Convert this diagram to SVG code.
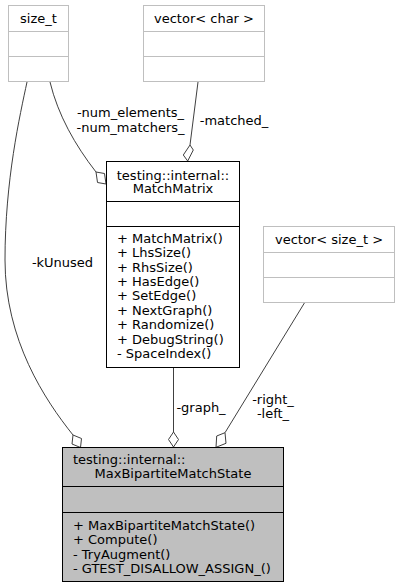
<svg xmlns="http://www.w3.org/2000/svg" width="400" height="588" viewBox="0 0 400 588">
<style>
text{font-family:"DejaVu Sans",sans-serif;font-size:13px;fill:#000}
.c{text-anchor:middle}
.box{fill:#fff;stroke:#bfbfbf;stroke-width:1}
.boxk{fill:#fff;stroke:#000;stroke-width:1}
.boxg{fill:#bfbfbf;stroke:#000;stroke-width:1}
.sepg{stroke:#bfbfbf;stroke-width:1}
.sepk{stroke:#000;stroke-width:1}
.edge{fill:none;stroke:#404040;stroke-width:1}
.dia{fill:#fff;stroke:#404040;stroke-width:1}
</style>
<rect width="400" height="588" fill="#fff"/>
<g id="connectors">
<path class="edge" d="M27,82 C20,115 5,180 5,260 C5,340 45,400 73,435"/>
<polygon class="dia" points="73,435 81.5,438.5 80.5,447.5 72,444"/>
<text class="c" x="62.5" y="267">-kUnused</text>
<path class="edge" d="M50,82 C58,115 75,145 96,172"/>
<polygon class="dia" points="96,172 104.5,173.5 106,184 97.5,182.5"/>
<text class="c" x="130.5" y="117">-num_elements_</text>
<text class="c" x="130.5" y="132">-num_matchers_</text>
<path class="edge" d="M198,82 L190,145"/>
<polygon class="dia" points="190,145 193.3,150 187.7,161 183.3,155"/>
<text class="c" x="234" y="125">-matched_</text>
<path class="edge" d="M173.5,368 L173.5,432"/>
<polygon class="dia" points="173.5,432 178.5,439.5 173.5,447 168.5,439.5"/>
<text class="c" x="201" y="412">-graph_</text>
<path class="edge" d="M305,302 L225,432.7"/>
<polygon class="dia" points="225,432.7 226,443.3 216,447.3 216.7,436"/>
<text class="c" x="273" y="404">-right_</text>
<text class="c" x="273" y="418">-left_</text>
</g>
<g id="size_t">
<rect class="box" x="8.5" y="5.5" width="60" height="76"/>
<line class="sepg" x1="8.5" y1="31.5" x2="68.5" y2="31.5"/>
<line class="sepg" x1="8.5" y1="56.5" x2="68.5" y2="56.5"/>
<text class="c" x="38.5" y="22.5">size_t</text>
</g>
<g id="vector_char">
<rect class="box" x="143.5" y="5.5" width="121" height="76"/>
<line class="sepg" x1="143.5" y1="31.5" x2="264.5" y2="31.5"/>
<line class="sepg" x1="143.5" y1="56.5" x2="264.5" y2="56.5"/>
<text class="c" x="204" y="22.5">vector&lt; char &gt;</text>
</g>
<g id="vector_size_t">
<rect class="box" x="263.5" y="226.5" width="131" height="76"/>
<line class="sepg" x1="263.5" y1="252.5" x2="394.5" y2="252.5"/>
<line class="sepg" x1="263.5" y1="277.5" x2="394.5" y2="277.5"/>
<text class="c" x="329" y="243.5">vector&lt; size_t &gt;</text>
</g>
<g id="MatchMatrix">
<rect class="boxk" x="106.5" y="161.5" width="133" height="206"/>
<line class="sepk" x1="106.5" y1="201.5" x2="239.5" y2="201.5"/>
<line class="sepk" x1="106.5" y1="226.5" x2="239.5" y2="226.5"/>
<text class="c" x="173" y="179.5">testing::internal::</text>
<text class="c" x="173" y="193">MatchMatrix</text>
<text x="117" y="242.5">+ MatchMatrix()</text>
<text x="117" y="257">+ LhsSize()</text>
<text x="117" y="271.5">+ RhsSize()</text>
<text x="117" y="286">+ HasEdge()</text>
<text x="117" y="300">+ SetEdge()</text>
<text x="117" y="314.5">+ NextGraph()</text>
<text x="117" y="329">+ Randomize()</text>
<text x="117" y="343.5">+ DebugString()</text>
<text x="117" y="358">- SpaceIndex()</text>
</g>
<g id="MaxBipartiteMatchState">
<rect class="boxg" x="62.5" y="447.5" width="221" height="134"/>
<line class="sepk" x1="62.5" y1="486.5" x2="283.5" y2="486.5"/>
<line class="sepk" x1="62.5" y1="512.5" x2="283.5" y2="512.5"/>
<text x="73" y="463.5">testing::internal::</text>
<text class="c" x="173" y="477.5">MaxBipartiteMatchState</text>
<text x="73" y="529.5">+ MaxBipartiteMatchState()</text>
<text x="73" y="544">+ Compute()</text>
<text x="73" y="558.5">- TryAugment()</text>
<text x="73" y="573">- GTEST_DISALLOW_ASSIGN_()</text>
</g>
</svg>
